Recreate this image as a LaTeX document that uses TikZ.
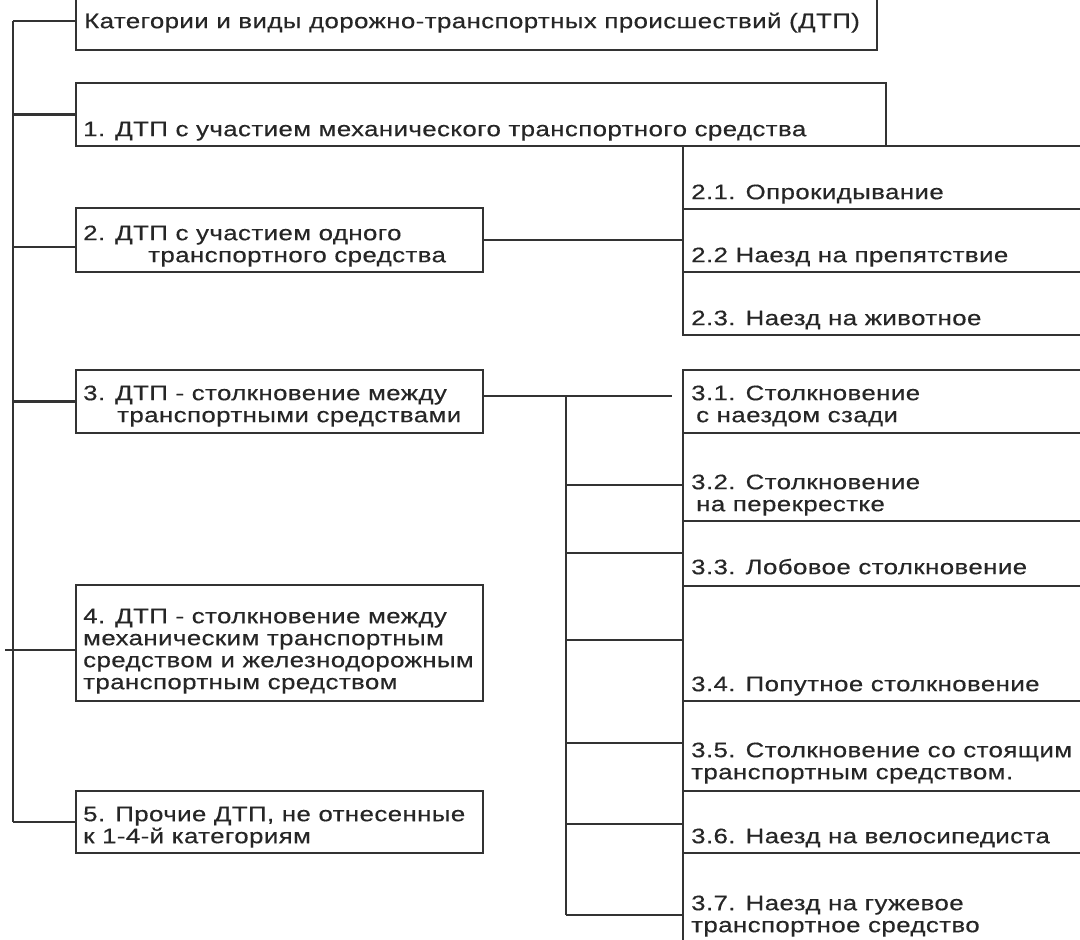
\documentclass[tikz,border=0pt]{standalone}
\usepackage{fontspec}
\setmainfont{Liberation Sans}[FakeStretch=1.23,LetterSpace=2,FakeBold=0.4]
\usetikzlibrary{positioning}
\tikzset{
  catbox/.style={draw=black!80,line width=2.2pt,anchor=north west,inner sep=0pt,outer sep=0pt},
  cell/.style={catbox,minimum width=440pt},
  lbl/.style={anchor=south west,align=left,inner sep=0pt,text=black!85,
    font=\fontsize{21}{22}\selectfont,execute at end node=\strut},
  link/.style={draw=black!80,line width=2.2pt},
}

\begin{document}
\begin{tikzpicture}[x=1pt,y=-1pt]
  \useasboundingbox (0,0) rectangle (1080,940);
  \clip (0,0) rectangle (1080,940);
  % categories (left column)
  \node[catbox,minimum width=801pt,minimum height=58pt] (top) at (76,-8) {};
  \node[lbl,above right=15pt and 8pt of top.south west] (topt) {Категории и виды дорожно-транспортных происшествий (ДТП)};
  \node[catbox,minimum width=810pt,minimum height=63pt] (k1) at (76,83) {};
  \node[lbl,above right=3pt and 7pt of k1.south west] (k1t) {1. ДТП с участием механического транспортного средства};
  \node[catbox,minimum width=407pt,minimum height=64pt] (k2) at (76,208) {};
  \node[lbl,above right=3pt and 7pt of k2.south west] (k2t) {2. ДТП с участием одного\\\hspace*{65pt}транспортного средства};
  \node[catbox,minimum width=407pt,minimum height=63pt] (k3) at (76,370) {};
  \node[lbl,above right=4pt and 7pt of k3.south west] (k3t) {3. ДТП - столкновение между\\\hspace*{34pt}транспортными средствами};
  \node[catbox,minimum width=407pt,minimum height=116pt] (k4) at (76,585) {};
  \node[lbl,above right=5pt and 7pt of k4.south west] (k4t) {4. ДТП - столкновение между\\механическим транспортным\\средством и железнодорожным\\транспортным средством};
  \node[catbox,minimum width=407pt,minimum height=62pt] (k5) at (76,791) {};
  \node[lbl,above right=3pt and 7pt of k5.south west] (k5t) {5. Прочие ДТП, не отнесенные\\к 1-4-й категориям};
  % kinds of category 2
  \node[cell,minimum height=63pt] (c21) at (683,146) {};
  \node[lbl,above right=3pt and 8pt of c21.south west] {2.1. Опрокидывание};
  \node[cell,minimum height=63pt] (c22) at (683,209) {};
  \node[lbl,above right=3pt and 8pt of c22.south west] {2.2 Наезд на препятствие};
  \node[cell,minimum height=63pt] (c23) at (683,272) {};
  \node[lbl,above right=3pt and 8pt of c23.south west] {2.3. Наезд на животное};
  % kinds of category 3
  \node[cell,minimum height=63pt] (c31) at (683,370) {};
  \node[lbl,above right=4pt and 8pt of c31.south west] {3.1. Столкновение\\\hspace*{5pt}с наездом сзади};
  \node[cell,minimum height=88pt] (c32) at (683,433) {};
  \node[lbl,above right=3pt and 8pt of c32.south west] {3.2. Столкновение\\\hspace*{5pt}на перекрестке};
  \node[cell,minimum height=65pt] (c33) at (683,521) {};
  \node[lbl,above right=5pt and 8pt of c33.south west] {3.3. Лобовое столкновение};
  \node[cell,minimum height=115pt] (c34) at (683,586) {};
  \node[lbl,above right=3pt and 8pt of c34.south west] {3.4. Попутное столкновение};
  \node[cell,minimum height=90pt] (c35) at (683,701) {};
  \node[lbl,above right=5pt and 8pt of c35.south west] {3.5. Столкновение со стоящим\\транспортным средством.};
  \node[cell,minimum height=62pt] (c36) at (683,791) {};
  \node[lbl,above right=3pt and 8pt of c36.south west] {3.6. Наезд на велосипедиста};
  \node[cell,minimum height=89pt] (c37) at (683,853) {};
  \node[lbl,above right=3pt and 8pt of c37.south west] {3.7. Наезд на гужевое\\транспортное средство};
  % trunk
  \coordinate (t0) at (13,0);
  \coordinate (tl) at (5,0);
  \coordinate (k2c) at ([yshift=-7pt]k2.west);
  \coordinate (k4c) at ([yshift=-7pt]k4.west);
  \draw[link] (t0 |- top.west) -- (t0 |- k5.west);
  \draw[link] (t0 |- top.west) -- (top.west);
  \draw[link] (t0 |- k1.west) -- (k1.west);
  \draw[link] (k2c) -- (t0 |- k2c);
  \draw[link] (t0 |- k3.west) -- (k3.west);
  \draw[link] (k4c) -- (tl |- k4c);
  \draw[link] (t0 |- k5.west) -- (k5.west);
  % branches
  \draw[link] (k2.east) -- (k2.east -| c22.west);
  \coordinate (j0) at (566,396);
  \coordinate (j0end) at (672,396);
  \draw[link] (j0 -| k3.east) -- (j0end);
  \draw[link] (j0) -- (566,915);
  \foreach \c/\y in {c32/485,c33/553,c34/640,c35/743,c36/824,c37/915} {
    \coordinate (j) at (566,\y);
    \draw[link] (j) -- (j -| \c.west);
  }
\end{tikzpicture}
\end{document}
